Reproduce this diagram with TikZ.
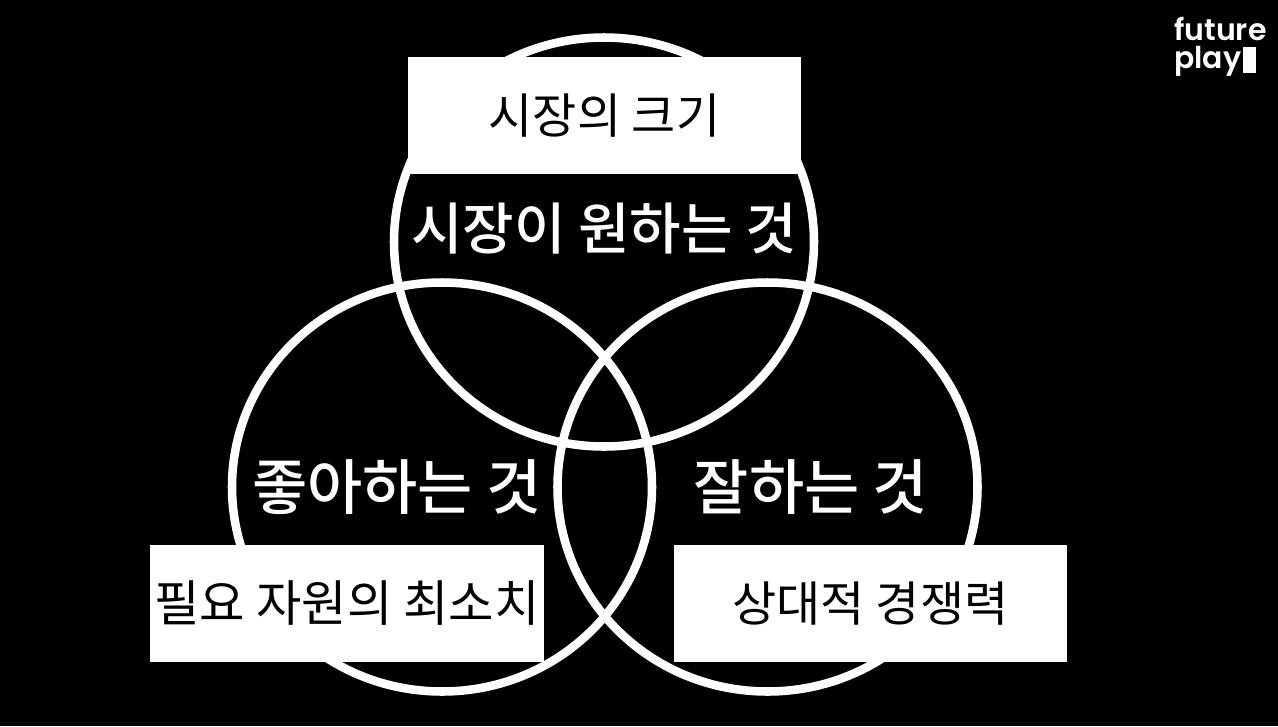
\documentclass[tikz,border=0pt]{standalone}
\usepackage{fontspec}
\usetikzlibrary{shapes.geometric}
\setmainfont{Noto Sans CJK KR Medium}
\newfontfamily\cardfont{Noto Sans CJK KR}
\newfontfamily\logofont{Poppins SemiBold}
\tikzset{
 ring/.style={draw=white,line width=6.4pt,fill=none,ellipse,inner sep=0pt,minimum width=420*0.75pt,minimum height=409*0.75pt},
 lab/.style={text=white,inner sep=0pt},
 card/.style={fill=white,inner sep=0pt,text=black,font=\cardfont\fontsize{36}{42}\selectfont,minimum width=393.5*0.75pt,minimum height=117*0.75pt},
 logotext/.style={text=white,font=\logofont\fontsize{22.5}{24}\selectfont,inner sep=0pt,anchor=base west},
}
\begin{document}
\begin{tikzpicture}[x=0.75pt,y=-0.75pt]
\useasboundingbox (0,0) rectangle (1278,726);
\fill[black] (0,0) rectangle (1278,726);
\node[ring] (top) at (604,242) {};
\node[ring] (left) at (442,487) {};
\node[ring] (right) at (767.5,487) {};
\node[card] (c1) at (604.5,115.5) {시장의 크기};
\node[card,font=\cardfont\fontsize{37}{42}\selectfont] (c2) at (347,603.5) {필요 자원의 최소치};
\node[card] (c3) at (870.5,603.5) {상대적 경쟁력};
\node[lab,font=\fontsize{42}{48}\selectfont] (l1) at (604,229) {시장이 원하는 것};
\node[lab,font=\fontsize{45}{50}\selectfont] (l2) at (397,487) {좋아하는 것};
\node[lab,font=\fontsize{45}{50}\selectfont] (l3) at (811,487) {잘하는 것};
\node[logotext] (logo1) at (1174,40) {future};
\node[logotext] (logo2) at (1174,68) {play};
\fill[white] (1243,47) rectangle (1256,73);
\end{tikzpicture}
\end{document}
